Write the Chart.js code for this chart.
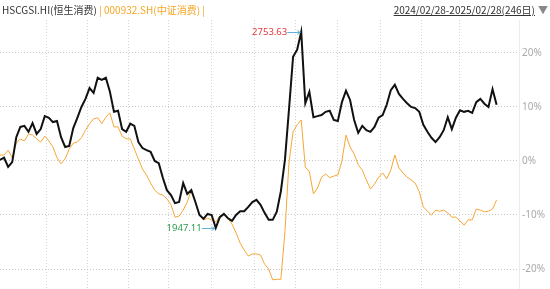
<!DOCTYPE html>
<html>
<head>
<meta charset="utf-8">
<script src="https://cdn.jsdelivr.net/npm/chart.js@4.4.1/dist/chart.umd.min.js"></script>
<style>
  body { margin: 0; background: #fff; }
  #wrap { position: relative; width: 550px; height: 289px; }
  #c { display: block; }
  #hdr { position: absolute; left: 0; top: 0; width: 550px; height: 20px; font: 10px "Noto Sans CJK SC", sans-serif; line-height: 20px; white-space: nowrap; }
  #hdr .l { position: absolute; left: 2px; color: #333; }
  #hdr .o { color: #f5a623; }
  #hdr .r { position: absolute; right: 15px; color: #333; text-decoration: underline; }
  #hdr .tri { position: absolute; right: 2px; color: #888; font-size: 10px; }
</style>
</head>
<body>
<div id="wrap">
  <canvas id="c" width="550" height="289"></canvas>
  <div id="hdr">
    <span class="l">HSCGSI.HI(恒生消费) <span class="o">| 000932.SH(中证消费) |</span></span>
    <span class="r">2024/02/28-2025/02/28(246日)</span>
    <span class="tri">▼</span>
  </div>
</div>
<script>
// cumulative change in %, one value every 2 trading days
const hsPct = [
  0.2, 0.6, -1.1, -0.2, 4.4, 6.3, 6.5, 5.4, 7.0, 5.0,
  5.9, 8.3, 8.0, 7.2, 7.4, 4.4, 2.6, 2.8, 6.1, 8.0,
  10.0, 11.5, 13.5, 12.6, 15.4, 15.0, 15.4, 12.8, 9.1, 9.3,
  5.9, 5.4, 6.9, 6.5, 3.5, 2.4, 2.0, 1.7, 0.0, -0.4,
  -3.1, -5.4, -6.3, -7.8, -7.6, -4.1, -6.1, -5.4, -7.6, -10.0,
  -10.7, -9.8, -10.0, -12.4, -10.4, -9.8, -10.6, -11.1, -10.0, -9.3,
  -9.3, -8.5, -7.6, -7.2, -8.1, -9.6, -10.9, -10.9, -9.4, -5.6,
  0.2, 9.6, 19.3, 20.6, 23.9, 10.7, 12.8, 8.1, 8.3, 8.5,
  9.1, 9.3, 7.6, 7.4, 10.9, 13.0, 11.3, 7.6, 5.2, 6.5,
  5.7, 5.4, 6.3, 8.0, 8.5, 10.4, 13.1, 14.1, 12.4, 11.5,
  10.7, 10.0, 9.8, 9.1, 6.7, 5.4, 4.3, 3.5, 4.4, 5.7,
  8.1, 5.9, 8.0, 9.4, 9.1, 9.3, 8.9, 10.9, 11.5, 10.6,
  10.0, 13.3, 10.4
];
const csPct = [
  1.1, 1.1, 2.0, 0.6, 3.3, 4.1, 3.7, 5.0, 4.8, 4.1,
  3.5, 4.6, 3.7, 2.6, 0.6, -0.5, 0.4, 2.2, 3.3, 3.5,
  4.3, 5.7, 6.9, 7.8, 8.0, 6.9, 8.1, 8.9, 6.3, 6.3,
  4.6, 4.1, 4.1, 2.2, 0.4, -1.5, -2.6, -4.1, -5.4, -6.1,
  -6.3, -7.0, -8.1, -10.4, -10.2, -9.1, -7.6, -5.4, -7.6, -9.8,
  -10.9, -10.6, -10.9, -11.3, -10.2, -9.8, -10.6, -11.7, -13.3, -15.2,
  -16.5, -17.6, -17.2, -17.2, -17.4, -19.1, -20.0, -22.0, -21.9, -21.9,
  -13.1, -0.2, 5.4, 6.7, 7.6, -1.1, -2.0, -6.1, -5.0, -3.0,
  -2.4, -3.1, -2.8, -2.6, 0.0, 4.8, 2.6, 1.3, -0.7, -1.7,
  -3.5, -5.2, -4.3, -3.0, -2.2, -3.3, -1.7, 1.1, -1.3, -2.2,
  -3.0, -3.5, -4.1, -5.7, -8.5, -9.3, -10.0, -9.1, -9.3, -9.1,
  -9.6, -10.4, -10.4, -11.1, -11.9, -10.9, -10.9, -8.9, -9.1, -9.4,
  -9.3, -8.9, -7.2
];
// first trading day of each month (day index)
const monthStarts = [23, 43, 63, 83, 104, 125, 145, 166, 187, 207, 226];
const yTicks = [20, 10, 0, -10, -20];
const highLabel = '2753.63';
const lowLabel = '1947.11';

const days = hsPct.map((v, i) => i * 2);

const markPlugin = {
  id: 'marks',
  afterDatasetsDraw(chart) {
    const ctx = chart.ctx;
    const xs = chart.scales.x, ys = chart.scales.y;
    const hi = hsPct.indexOf(Math.max(...hsPct));
    const lo = hsPct.indexOf(Math.min(...hsPct));
    const mark = (i, text, color) => {
      const px = xs.getPixelForValue(days[i]);
      const py = Math.round(ys.getPixelForValue(hsPct[i])) + 0.5;
      ctx.save();
      ctx.strokeStyle = '#5fb2e0';
      ctx.lineWidth = 1;
      ctx.beginPath();
      ctx.moveTo(px - 14, py);
      ctx.lineTo(px - 1, py);
      ctx.moveTo(px - 4, py - 2);
      ctx.lineTo(px - 1, py);
      ctx.lineTo(px - 4, py + 2);
      ctx.stroke();
      ctx.fillStyle = color;
      ctx.font = '9.5px "Noto Sans", sans-serif';
      ctx.textAlign = 'right';
      ctx.textBaseline = 'middle';
      ctx.fillText(text, px - 14, py);
      ctx.restore();
    };
    mark(hi, highLabel, '#e4393c');
    mark(lo, lowLabel, '#2f9a4a');
  }
};

// no label overhang padding, chart area fills the canvas below the header
const noPad = s => { s.paddingTop = 0; s.paddingBottom = 0; s.paddingLeft = 0; s.paddingRight = 0; };

new Chart(document.getElementById('c'), {
  type: 'line',
  data: {
    datasets: [
      {
        label: 'HSCGSI.HI',
        data: days.map((d, i) => ({ x: d, y: hsPct[i] })),
        borderColor: '#111111',
        borderWidth: 2,
        pointRadius: 0,
        tension: 0
      },
      {
        label: '000932.SH',
        data: days.map((d, i) => ({ x: d, y: csPct[i] })),
        borderColor: '#f7a634',
        borderWidth: 1,
        pointRadius: 0,
        tension: 0
      }
    ]
  },
  options: {
    responsive: false,
    animation: false,
    layout: { padding: { top: 20, left: 0, right: 0, bottom: 0 } },
    plugins: { legend: { display: false }, tooltip: { enabled: false } },
    scales: {
      x: {
        type: 'linear',
        min: 0,
        max: 255,
        afterBuildTicks: s => { s.ticks = monthStarts.map(v => ({ value: v })); },
        afterFit: s => { s.height = 0; noPad(s); },
        ticks: { display: false },
        grid: { color: '#d4d4d4', drawTicks: false },
        border: { display: false, dash: [1, 2] }
      },
      y: {
        position: 'right',
        min: -23.7,
        max: 26.1,
        afterBuildTicks: s => { s.ticks = yTicks.map(v => ({ value: v })); },
        afterFit: s => { s.width = 31; noPad(s); },
        ticks: {
          callback: v => v + '%',
          color: '#aaaaaa',
          font: { size: 10, family: '"Noto Sans", sans-serif' },
          padding: 3
        },
        grid: { color: '#c8c8c8', drawTicks: false },
        border: { display: true, color: '#ececec', dash: [1, 2] }
      }
    }
  },
  plugins: [markPlugin]
});
</script>
</body>
</html>
